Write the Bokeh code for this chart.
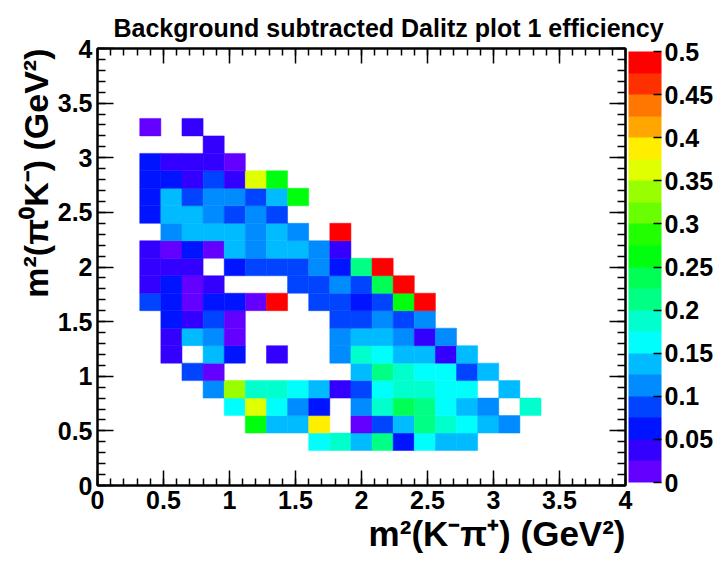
import colorsys
from bokeh.plotting import figure
from bokeh.models import (Range1d, LinearAxis, SingleIntervalTicker, FixedTicker,
                          LinearColorMapper, ColorBar, Title, ColumnDataSource,
                          CustomJSTickFormatter)
from bokeh.transform import transform
from bokeh.embed import file_html
from bokeh.resources import INLINE

# ---------------- data ----------------
N = None
title_text = "Background subtracted Dalitz plot 1 efficiency"
x_title = "m\u00b2(K\u207b\u03c0\u207a) (GeV\u00b2)"
y_title = "m\u00b2(\u03c0\u2070K\u207b) (GeV\u00b2)"

axis_min, axis_max = 0.0, 4.0
n_bins = 25                      # 25 x 25 bins over [0, 4]
z_min, z_max = 0.0, 0.5
n_contours = 20
cbar_ticks = [0, 0.05, 0.1, 0.15, 0.2, 0.25, 0.3, 0.35, 0.4, 0.45, 0.5]

# efficiency per y-bin (index = x-bin 0..24), None = empty bin
eff_y20 = [N, N, .012, N, .040, N, N, N, N, N, N, N, N, N, N, N, N, N, N, N, N, N, N, N, N]
eff_y19 = [N, N, N, N, N, .038, N, N, N, N, N, N, N, N, N, N, N, N, N, N, N, N, N, N, N]
eff_y18 = [N, N, .062, .040, .038, .042, .015, N, N, N, N, N, N, N, N, N, N, N, N, N, N, N, N, N, N]
eff_y17 = [N, N, .060, .065, .040, .088, .035, .362, .262, N, N, N, N, N, N, N, N, N, N, N, N, N, N, N, N]
eff_y16 = [N, N, .062, .138, .085, .112, .110, .088, .140, .265, N, N, N, N, N, N, N, N, N, N, N, N, N, N, N]
eff_y15 = [N, N, .063, .135, .140, .113, .087, .115, .085, N, N, N, N, N, N, N, N, N, N, N, N, N, N, N, N]
eff_y14 = [N, N, N, .112, .137, .140, .138, .113, .139, .110, N, .490, N, N, N, N, N, N, N, N, N, N, N, N, N]
eff_y13 = [N, N, .038, .012, .062, .015, .138, .112, .140, .136, .110, .037, N, N, N, N, N, N, N, N, N, N, N, N, N]
eff_y12 = [N, N, .036, .039, .037, N, .063, .087, .088, .086, .112, .062, .212, .490, N, N, N, N, N, N, N, N, N, N, N]
eff_y11 = [N, N, .038, .061, .013, .040, N, N, N, .087, .088, .113, .086, .238, .490, N, N, N, N, N, N, N, N, N, N]
eff_y10 = [N, N, .085, .063, .014, .061, .064, .012, .490, N, .087, .088, .062, .086, .262, .490, N, N, N, N, N, N, N, N, N]
eff_y09 = [N, N, N, .062, .038, .087, .013, N, N, N, N, .086, .088, .111, .087, .112, N, N, N, N, N, N, N, N, N]
eff_y08 = [N, N, N, .037, .137, .112, .012, N, N, N, N, .113, .138, .139, .111, .038, .112, N, N, N, N, N, N, N, N]
eff_y07 = [N, N, N, .039, N, .136, .063, N, .037, N, N, .112, .188, .162, .138, .137, .036, .137, N, N, N, N, N, N, N]
eff_y06 = [N, N, N, N, .087, .013, N, N, N, N, N, N, .139, .212, .187, .163, .162, .086, .138, N, N, N, N, N, N]
eff_y05 = [N, N, N, N, N, .112, .338, .188, .186, .163, .137, .038, .087, .162, .187, .189, .163, .161, N, .138, N, N, N, N, N]
eff_y04 = [N, N, N, N, N, N, .162, .363, .163, .112, .062, N, .111, .188, .240, .215, .163, .137, .112, N, .187, N, N, N, N]
eff_y03 = [N, N, N, N, N, N, N, .262, .138, .137, .388, N, .013, .086, .138, .213, .187, .162, .137, .112, N, N, N, N, N]
eff_y02 = [N, N, N, N, N, N, N, N, N, N, .162, .187, .138, .213, .062, .163, .137, .138, N, N, N, N, N, N, N]

rows = [(2, eff_y02), (3, eff_y03), (4, eff_y04), (5, eff_y05), (6, eff_y06),
        (7, eff_y07), (8, eff_y08), (9, eff_y09), (10, eff_y10), (11, eff_y11),
        (12, eff_y12), (13, eff_y13), (14, eff_y14), (15, eff_y15), (16, eff_y16),
        (17, eff_y17), (18, eff_y18), (19, eff_y19), (20, eff_y20)]

# ---------------- build bins ----------------
bw = (axis_max - axis_min) / n_bins
left, right, bottom, top, eff = [], [], [], [], []
for j, vals in rows:
    for i, v in enumerate(vals):
        if v is None:
            continue
        left.append(axis_min + i * bw)
        right.append(axis_min + (i + 1) * bw)
        bottom.append(axis_min + j * bw)
        top.append(axis_min + (j + 1) * bw)
        eff.append(v)
src = ColumnDataSource(dict(left=left, right=right, bottom=bottom, top=top, eff=eff))

# ROOT "pretty" palette (50 colours), sampled into 20 contour levels
pretty = []
for i in range(50):
    hue = 280.0 - (i + 1) * 280.0 / 50
    r, g, b = colorsys.hls_to_rgb(hue / 360.0, 0.5, 1.0)
    pretty.append("#%02x%02x%02x" % (int(round(r * 255)), int(round(g * 255)), int(round(b * 255))))
palette = [pretty[min(49, int((k + 0.99) * 50 / n_contours))] for k in range(n_contours)]
mapper = LinearColorMapper(palette=palette, low=z_min, high=z_max)

FONT = "Liberation Sans"
fmt = CustomJSTickFormatter(code="return String(Math.round(tick*1000)/1000)")

p = figure(width=721, height=563, x_range=Range1d(axis_min, axis_max),
           y_range=Range1d(axis_min, axis_max), output_backend="svg",
           toolbar_location=None, min_border_left=97, min_border_right=96,
           min_border_top=48, min_border_bottom=78)
p.grid.visible = False
p.outline_line_color = "black"
p.outline_line_width = 2
p.background_fill_color = "white"
p.border_fill_color = "white"

p.quad(left="left", right="right", bottom="bottom", top="top", source=src,
       fill_color=transform("eff", mapper), line_color=transform("eff", mapper),
       line_width=0.5)


def style_axis(ax, major_in, minor_in, labels=True):
    ax.ticker = SingleIntervalTicker(interval=0.5, num_minor_ticks=5)
    ax.axis_line_color = "black"
    ax.axis_line_width = 2
    ax.major_tick_in = major_in
    ax.major_tick_out = 0
    ax.minor_tick_in = minor_in
    ax.minor_tick_out = 0
    ax.major_tick_line_width = 1.5
    ax.minor_tick_line_width = 1.5
    ax.major_tick_line_color = "black"
    ax.minor_tick_line_color = "black"
    if labels:
        ax.formatter = fmt
        ax.major_label_text_font = FONT
        ax.major_label_text_font_style = "bold"
        ax.major_label_text_color = "black"
        ax.major_label_text_font_size = "25px"
        ax.major_label_standoff = 5
    else:
        # tick marks only, no labels on the mirrored axes
        ax.major_label_text_color = None
        ax.major_label_text_font_size = "0px"
        ax.major_label_standoff = 0


style_axis(p.xaxis[0], 15, 7)
style_axis(p.yaxis[0], 16, 8)

top_axis = LinearAxis()
style_axis(top_axis, 15, 7, labels=False)
p.add_layout(top_axis, "above")

right_axis = LinearAxis()
style_axis(right_axis, 16, 8, labels=False)
p.add_layout(right_axis, "right")

cbar = ColorBar(color_mapper=mapper, ticker=FixedTicker(ticks=cbar_ticks),
                formatter=fmt, width=33, padding=3, margin=0,
                major_label_text_font=FONT, major_label_text_font_style="bold",
                major_label_text_font_size="25px", major_label_text_color="black",
                major_tick_in=8, major_tick_out=0, major_tick_line_color="black",
                major_tick_line_width=1.5, minor_tick_line_color=None,
                label_standoff=3, bar_line_color=None, border_line_color=None,
                background_fill_alpha=0)
p.add_layout(cbar, "right")

p.add_layout(Title(text=title_text, align="left", offset=16, standoff=14,
                   text_font=FONT, text_font_size="25px", text_font_style="bold",
                   text_color="black"), "above")
p.add_layout(Title(text=x_title, align="right", standoff=0,
                   text_font=FONT, text_font_size="35px", text_font_style="bold",
                   text_color="black"), "below")
p.add_layout(Title(text=y_title, align="right", standoff=0,
                   text_font=FONT, text_font_size="34px", text_font_style="bold",
                   text_color="black"), "left")

open("out.html", "w").write(file_html(p, INLINE))
